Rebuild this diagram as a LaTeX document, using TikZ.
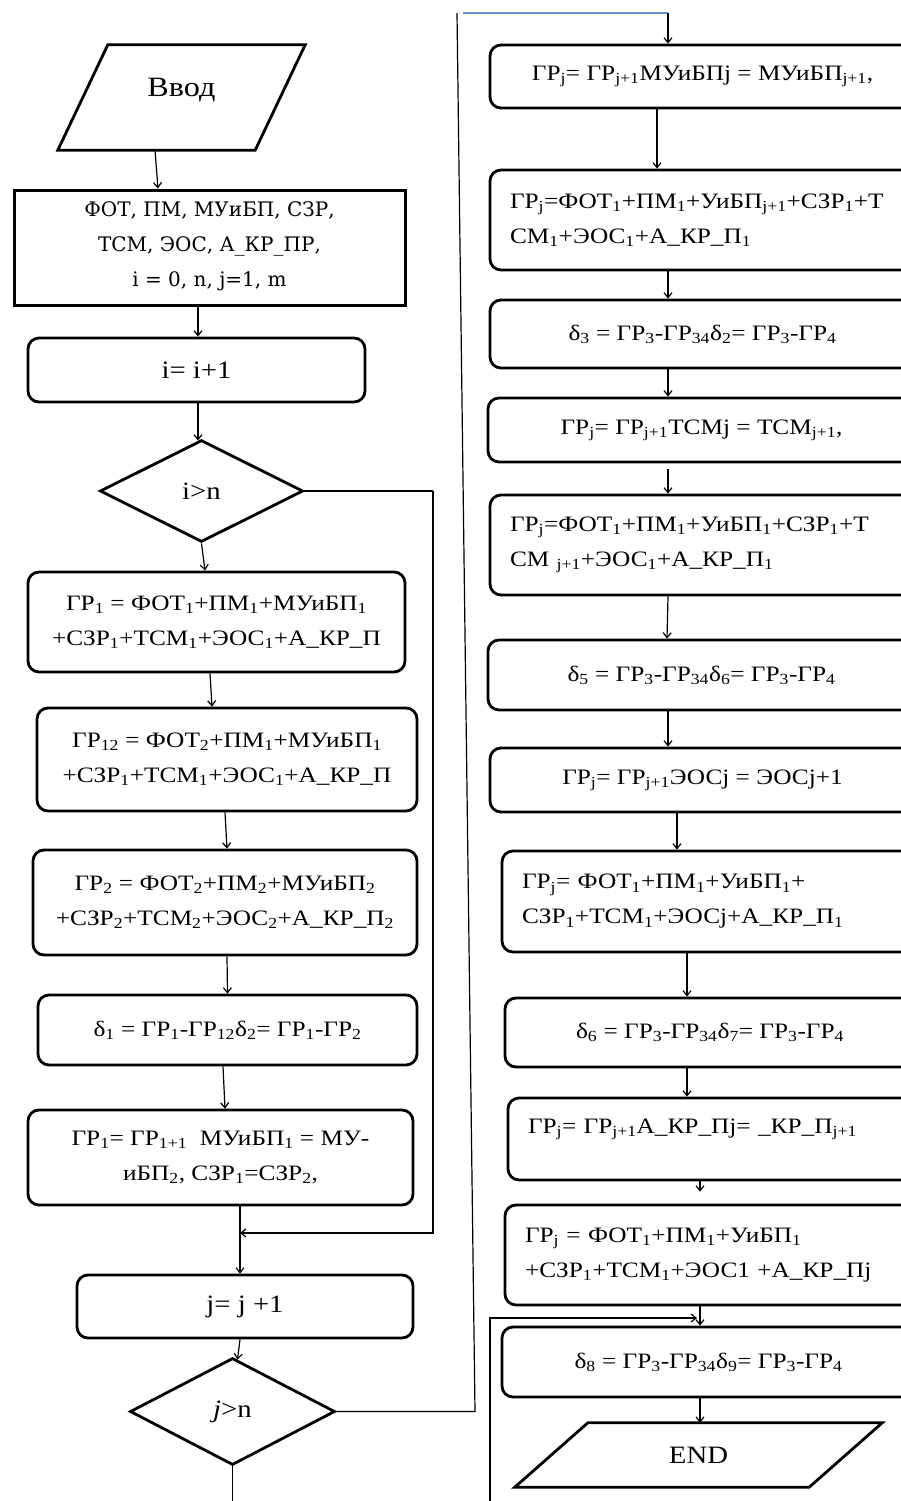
\documentclass[tikz,border=0pt]{standalone}
\usepackage{fontspec}
\setmainfont{Liberation Serif}[FakeStretch=1.15]
\newfontfamily\slabfont{DejaVu Serif}
\usepackage{tikz}
\usetikzlibrary{positioning, shapes.geometric, arrows.meta}
\newcommand{\idx}[1]{\textsubscript{#1}}
\definecolor{linkblue}{RGB}{100,146,204}

\begin{document}
\begin{tikzpicture}[
  x=1pt, y=-1pt,
  proc/.style={
    rectangle,
    draw,
    line width=2.8pt,
    rounded corners=11pt,
    align=center,
    inner sep=0pt,
    font=\fontsize{22}{35}\selectfont,
  },
  lproc/.style={
    proc,
    align=left,
    inner xsep=20pt,
  },
  datain/.style={
    rectangle,
    draw,
    line width=3pt,
    align=center,
    inner sep=0pt,
    font=\slabfont\fontsize{20}{35}\selectfont,
  },
  cond/.style={
    diamond,
    draw,
    line width=2.8pt,
    inner sep=0pt,
    font=\fontsize{25}{30}\selectfont,
  },
  io/.style={
    rectangle,
    inner sep=0pt,
  },
  ioframe/.style={line width=2.8pt, line join=miter},
  lnk/.style={line width=1.2pt},
  arr/.style={draw, line width=1.2pt, -{Straight Barb[length=5pt,width=8pt]}},
]
\useasboundingbox (0,0) rectangle (901,1501);
\clip (0,0) rectangle (901,1501);
\fill[white] (0,0) rectangle (901,1501);

% left column
\node[io, minimum width=197pt, minimum height=105pt, text height=20pt, text depth=21.5pt,
  font=\fontsize{28}{30}\selectfont] (input) at (181.5,97.5) {Ввод};
\draw[ioframe] ([xshift=25pt]input.north west) -- ([xshift=25pt]input.north east)
  -- ([xshift=-25pt]input.south east) -- ([xshift=-25pt]input.south west) -- cycle;
\node[datain, minimum width=391pt, minimum height=115pt, text depth=6pt] (init) at (209.5,247.5)
  {ФОТ, ПМ, МУиБП, СЗР,\\ТСМ, ЭОС, А\_КР\_ПР,\\i = 0, n, j=1, m};
\node[proc, minimum width=337pt, minimum height=64pt, font=\fontsize{25}{30}\selectfont]
  (inci) at (196.5,370) {i= i+1};
\node[cond, minimum width=203pt, minimum height=102pt] (deci) at (201.5,491) {i>n};
\node[proc, minimum width=377pt, minimum height=100pt] (gr1) at (216.5,622)
  {ГР\idx{1} = ФОТ\idx{1}+ПМ\idx{1}+МУиБП\idx{1}\\+СЗР\idx{1}+ТСМ\idx{1}+ЭОС\idx{1}+А\_КР\_П};
\node[proc, minimum width=380pt, minimum height=103pt] (gr12) at (227,759.5)
  {ГР\idx{12} = ФОТ\idx{2}+ПМ\idx{1}+МУиБП\idx{1}\\+СЗР\idx{1}+ТСМ\idx{1}+ЭОС\idx{1}+А\_КР\_П};
\node[proc, minimum width=384pt, minimum height=105pt] (gr2) at (225,902.5)
  {ГР\idx{2} = ФОТ\idx{2}+ПМ\idx{2}+МУиБП\idx{2}\\+СЗР\idx{2}+ТСМ\idx{2}+ЭОС\idx{2}+А\_КР\_П\idx{2}};
\node[proc, minimum width=379pt, minimum height=70pt] (d1) at (227.5,1030)
  {δ\idx{1} = ГР\idx{1}-ГР\idx{12}δ\idx{2}= ГР\idx{1}-ГР\idx{2}};
\node[proc, minimum width=385pt, minimum height=95pt] (shift1) at (220.5,1157.5)
  {ГР\idx{1}= ГР\idx{1+1}\ \ МУиБП\idx{1} = МУ-\\иБП\idx{2}, СЗР\idx{1}=СЗР\idx{2},};
\node[proc, minimum width=336pt, minimum height=63pt, font=\fontsize{25}{30}\selectfont]
  (incj) at (245,1306.5) {j= j +1};
\node[cond, minimum width=205pt, minimum height=107pt] (decj) at (232.5,1411.5) {\textit{j}>n};

% right column
\node[proc, minimum width=425pt, minimum height=63pt] (r1) at (702.5,76.5)
  {ГР\idx{j}= ГР\idx{j+1}МУиБПj = МУиБП\idx{j+1},};
\node[lproc, text width=385pt, minimum height=100pt] (r2) at (702.5,220)
  {ГР\idx{j}=ФОТ\idx{1}+ПМ\idx{1}+УиБП\idx{j+1}+СЗР\idx{1}+Т\\СМ\idx{1}+ЭОС\idx{1}+А\_КР\_П\idx{1}};
\node[proc, minimum width=425pt, minimum height=68pt] (r3) at (702.5,334)
  {δ\idx{3} = ГР\idx{3}-ГР\idx{34}δ\idx{2}= ГР\idx{3}-ГР\idx{4}};
\node[proc, minimum width=427pt, minimum height=64pt] (r4) at (701.5,430)
  {ГР\idx{j}= ГР\idx{j+1}ТСМj = ТСМ\idx{j+1},};
\node[lproc, text width=385pt, minimum height=100pt] (r5) at (702.5,545)
  {ГР\idx{j}=ФОТ\idx{1}+ПМ\idx{1}+УиБП\idx{1}+СЗР\idx{1}+Т\\СМ\idx{ j+1}+ЭОС\idx{1}+А\_КР\_П\idx{1}};
\node[proc, minimum width=427pt, minimum height=70pt] (r6) at (701.5,675)
  {δ\idx{5} = ГР\idx{3}-ГР\idx{34}δ\idx{6}= ГР\idx{3}-ГР\idx{4}};
\node[proc, minimum width=425pt, minimum height=64pt] (r7) at (702.5,780)
  {ГР\idx{j}= ГР\idx{j+1}ЭОСj = ЭОСj+1};
\node[lproc, text width=373pt, minimum height=101pt] (r8) at (708.5,901.5)
  {ГР\idx{j}= ФОТ\idx{1}+ПМ\idx{1}+УиБП\idx{1}+\\СЗР\idx{1}+ТСМ\idx{1}+ЭОСj+А\_КР\_П\idx{1}};
\node[proc, minimum width=410pt, minimum height=69pt] (r9) at (710,1032.5)
  {δ\idx{6} = ГР\idx{3}-ГР\idx{34}δ\idx{7}= ГР\idx{3}-ГР\idx{4}};
\node[lproc, text width=367pt, minimum height=82pt, text depth=26pt] (r10) at (711.5,1139)
  {ГР\idx{j}= ГР\idx{j+1}А\_КР\_Пj= \_КР\_П\idx{j+1}};
\node[lproc, text width=370pt, minimum height=100pt] (r11) at (710,1255)
  {ГР\idx{j} = ФОТ\idx{1}+ПМ\idx{1}+УиБП\idx{1}\\+СЗР\idx{1}+ТСМ\idx{1}+ЭОС1 +А\_КР\_Пj};
\node[proc, minimum width=413pt, minimum height=70pt] (r12) at (708.5,1362)
  {δ\idx{8} = ГР\idx{3}-ГР\idx{34}δ\idx{9}= ГР\idx{3}-ГР\idx{4}};
\node[io, minimum width=294pt, minimum height=64pt, font=\fontsize{25}{30}\selectfont]
  (stop) at (698.5,1455) {END};
\draw[ioframe] ([xshift=36.5pt]stop.north west) -- ([xshift=36.5pt]stop.north east)
  -- ([xshift=-36.5pt]stop.south east) -- ([xshift=-36.5pt]stop.south west) -- cycle;

% helper points
\coordinate (ijoin) at (240,1233);
\coordinate (ibus) at (433,491);
\coordinate (jbus) at (475,1411.5);
\coordinate (jtop) at (457,13);
\coordinate (jturn) at (668,13);
\coordinate (cut) at (0,1505);
\coordinate (rin) at (490,1505);
\coordinate (rjoin) at (697,1318);

% left flow
\draw[arr] ([xshift=-26.5pt]input.south) -- ([xshift=-51.5pt]init.north);
\draw[arr] ([xshift=-11.5pt]init.south) -- ([xshift=1.5pt]inci.north);
\draw[arr] ([xshift=1.5pt]inci.south) -- ([xshift=-3.5pt,yshift=-2pt]deci.north);
\draw[arr] (deci.south) -- ([xshift=-11.5pt]gr1.north);
\draw[arr] ([xshift=-6.5pt]gr1.south) -- ([xshift=-15pt]gr12.north);
\draw[arr] ([xshift=-2pt]gr12.south) -- ([xshift=2pt]gr2.north);
\draw[arr] ([xshift=2pt]gr2.south) -- (d1.north);
\draw[arr] ([xshift=-4.5pt]d1.south) -- ([xshift=4.5pt]shift1.north);
\draw[arr] ([xshift=19.5pt]shift1.south) -- ([xshift=-5pt]incj.north);
\draw[arr] ([xshift=-5pt]incj.south) -- ([xshift=5pt,yshift=-3pt]decj.north);
\draw[lnk] (deci.east) -- (ibus);
\draw[arr] (ibus) |- (ijoin);
\draw[lnk] (decj.south) -- (decj.south |- cut);
\draw[lnk] (decj.east) -- (jbus) -- (jtop);
\draw[lnk, linkblue] ([xshift=6pt]jtop) -- (jturn);
\draw[arr] (jturn) -- ([xshift=-34.5pt]r1.north);

% right flow
\draw[arr] ([xshift=-45.5pt]r1.south) -- ([xshift=-45.5pt]r2.north);
\draw[arr] ([xshift=-34.5pt]r2.south) -- ([xshift=-34.5pt]r3.north);
\draw[arr] ([xshift=-34.5pt]r3.south) -- ([xshift=-33.5pt]r4.north);
\draw[arr] ([xshift=-33.5pt,yshift=-6pt]r4.south) -- ([xshift=-34.5pt]r5.north);
\draw[arr] ([xshift=-34.5pt]r5.south) -- ([xshift=-34.5pt]r6.north);
\draw[arr] ([xshift=-33.5pt]r6.south) -- ([xshift=-34.5pt]r7.north);
\draw[arr] ([xshift=-25.5pt]r7.south) -- ([xshift=-31.5pt]r8.north);
\draw[arr] ([xshift=-21.5pt]r8.south) -- ([xshift=-23pt]r9.north);
\draw[arr] ([xshift=-23pt]r9.south) -- ([xshift=-24.5pt]r10.north);
\draw[arr] ([xshift=-11.5pt]r10.south) -- ([xshift=-10pt,yshift=12pt]r11.north);
\draw[arr] ([xshift=-10pt]r11.south) -- ([xshift=-8.5pt]r12.north);
\draw[arr] (rin) |- (rjoin);
\draw[arr] ([xshift=-8.5pt]r12.south) -- ([xshift=1.5pt]stop.north);
\end{tikzpicture}
\end{document}
